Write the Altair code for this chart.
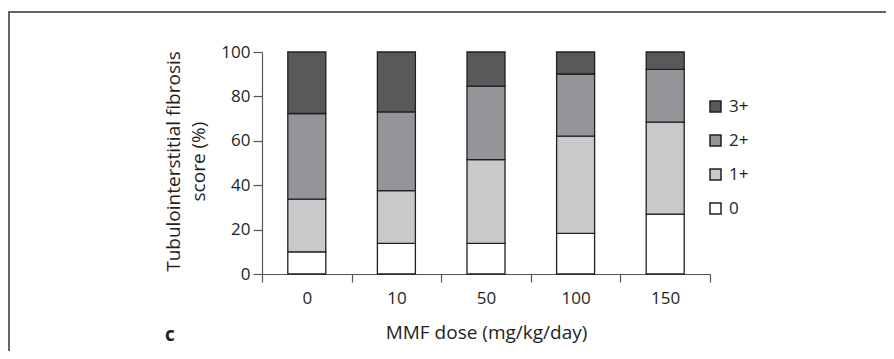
import altair as alt
import pandas as pd

doses = ["0", "10", "50", "100", "150"]
grades = ["0", "1+", "2+", "3+"]
score_0 = [10.0, 13.8, 13.8, 18.3, 27.0]
score_1 = [23.7, 23.8, 37.7, 43.8, 41.4]
score_2 = [38.6, 35.4, 33.1, 28.0, 23.8]
score_3 = [27.7, 27.0, 15.4, 9.9, 7.8]
legend_order = ["3+", "2+", "1+", "0"]
colors = ["#58595b", "#939598", "#c8c9cb", "#ffffff"]
y_ticks = [0, 20, 40, 60, 80, 100]

series = [score_0, score_1, score_2, score_3]
rows = []
for gi, (g, vals) in enumerate(zip(grades, series)):
    for d, v in zip(doses, vals):
        rows.append({"dose": d, "grade": g, "value": v, "rank": gi})
df = pd.DataFrame(rows)

FONT = "Open Sans"
INK = "#231f20"
AX = "#555555"

bars = alt.Chart(df).mark_bar(size=38, stroke=INK, strokeWidth=1.3).encode(
    x=alt.X(
        "dose:N",
        sort=doses,
        scale=alt.Scale(paddingInner=0, paddingOuter=0),
        axis=alt.Axis(
            title="MMF dose (mg/kg/day)",
            tickBand="extent",
            labelAngle=0,
            tickSize=8,
            labelPadding=8,
            titlePadding=17,
            labelFontSize=17,
            titleFontSize=19,
        ),
    ),
    y=alt.Y(
        "value:Q",
        stack="zero",
        scale=alt.Scale(domain=[0, 100], nice=False),
        axis=alt.Axis(
            values=y_ticks,
            title=["Tubulointerstitial fibrosis", "score (%)"],
            grid=False,
            tickSize=9,
            labelPadding=3,
            labelFontSize=17,
            titleFontSize=19,
            titleLineHeight=25,
            titleAngle=270,
            titleBaseline="middle",
            titleAlign="center",
            titleX=-89,
            titleY=109,
        ),
    ),
    color=alt.Color(
        "grade:N",
        scale=alt.Scale(domain=legend_order, range=colors),
        legend=alt.Legend(
            title=None,
            orient="none",
            legendX=445,
            legendY=46,
            symbolType="square",
            symbolSize=121,
            symbolStrokeColor=INK,
            symbolStrokeWidth=1.5,
            labelFontSize=17,
            labelOffset=5,
            rowPadding=16,
            padding=0,
        ),
    ),
    order=alt.Order("rank:Q", sort="ascending"),
)

frame_df = pd.DataFrame({"k": [0]})
left_line = alt.Chart(frame_df).mark_rule(color="#666666", strokeWidth=2).encode(
    x=alt.value(-253), y=alt.value(-40), y2=alt.value(300)
)
top_line = alt.Chart(frame_df).mark_rule(color="#666666", strokeWidth=2).encode(
    x=alt.value(-254), x2=alt.value(624), y=alt.value(-40)
)
panel = alt.Chart(frame_df).mark_text(
    text="c", font=FONT, fontSize=19, fontWeight="bold", color=INK,
    align="left", baseline="alphabetic"
).encode(x=alt.value(-97), y=alt.value(289))

chart = alt.layer(bars, left_line, top_line, panel).properties(
    width=448,
    height=222,
    autosize=alt.AutoSizeParams(type="none"),
    padding={"left": 254, "top": 44, "right": 176, "bottom": 77},
).configure_view(stroke=None).configure_axis(
    labelFont=FONT, titleFont=FONT, labelColor=INK, titleColor=INK,
    titleFontWeight="normal", domainColor=AX, tickColor=AX, domainWidth=1.2, tickWidth=1.2,
).configure_legend(labelFont=FONT, labelColor=INK)

chart.save("out.html", embed_options={"renderer": "svg", "actions": False})
